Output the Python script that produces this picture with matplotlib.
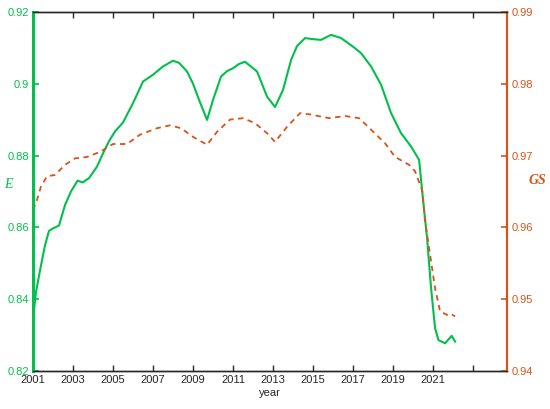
import matplotlib
matplotlib.use('Agg')
from matplotlib import pyplot as plt

# E (green, left axis)
e_year = [2001.0, 2001.15, 2001.35, 2001.6, 2001.8, 2002.0, 2002.3, 2002.6, 2002.9,
          2003.23, 2003.48, 2003.8, 2004.2, 2004.5, 2004.8, 2005.1, 2005.5, 2006.0,
          2006.5, 2007.0, 2007.5, 2008.0, 2008.3, 2008.7, 2009.0, 2009.3, 2009.7,
          2010.0, 2010.4, 2010.7, 2011.0, 2011.3, 2011.6, 2012.2, 2012.7, 2013.1,
          2013.5, 2013.9, 2014.2, 2014.6, 2015.0, 2015.4, 2015.9, 2016.4, 2017.0,
          2017.4, 2017.9, 2018.4, 2018.9, 2019.4, 2019.9, 2020.3, 2020.5, 2020.7,
          2020.9, 2021.1, 2021.27, 2021.6, 2021.93, 2022.1]
e_val = [0.8345, 0.842, 0.848, 0.855, 0.8590, 0.8597, 0.8605, 0.8662, 0.870,
         0.8730, 0.8725, 0.8737, 0.8769, 0.8806, 0.8840, 0.8867, 0.8892, 0.8946,
         0.9006, 0.9025, 0.9048, 0.9064, 0.9058, 0.9034, 0.9000, 0.8955, 0.8899,
         0.8955, 0.9020, 0.9035, 0.9043, 0.9055, 0.9061, 0.9034, 0.8964, 0.8935,
         0.8983, 0.9066, 0.9105, 0.9127, 0.9124, 0.9122, 0.9136, 0.9127, 0.9103,
         0.9085, 0.9048, 0.8997, 0.8918, 0.8862, 0.8825, 0.8788, 0.8676, 0.8570,
         0.8430, 0.8319, 0.8286, 0.8277, 0.8298, 0.8282]

# GS (orange dashed, right axis)
gs_year = [2001.0, 2001.2, 2001.4, 2001.7, 2002.1, 2002.6, 2003.1, 2003.7, 2004.35,
           2005.0, 2005.7, 2006.35, 2007.2, 2007.85, 2008.4, 2009.0, 2009.7, 2010.2,
           2010.85, 2011.5, 2012.1, 2012.7, 2013.1, 2013.7, 2014.35, 2014.9, 2015.8,
           2016.6, 2017.3, 2017.9, 2018.6, 2019.1, 2019.8, 2020.1, 2020.45, 2020.6,
           2020.85, 2021.1, 2021.35, 2021.7, 2021.85, 2022.1]
gs_val = [0.9624, 0.9638, 0.9657, 0.9671, 0.9673, 0.9687, 0.9696, 0.9698, 0.9705,
          0.9716, 0.9716, 0.9729, 0.9738, 0.9742, 0.9738, 0.9726, 0.9715, 0.9733,
          0.9750, 0.9752, 0.9745, 0.9731, 0.9719, 0.9740, 0.9759, 0.9757, 0.9752,
          0.9755, 0.9752, 0.9736, 0.9717, 0.9698, 0.9687, 0.9678, 0.9652, 0.9608,
          0.9562, 0.9515, 0.9483, 0.9478, 0.9480, 0.9476]

x_ticks = [2001, 2003, 2005, 2007, 2009, 2011, 2013, 2015, 2017, 2019, 2021, 2023]
x_labels = ['2001', '2003', '2005', '2007', '2009', '2011', '2013', '2015', '2017',
            '2019', '2021', '']

green = '#00C04B'
orange = '#D95319'

plt.rcParams['font.family'] = ['Liberation Sans', 'DejaVu Sans']

fig = plt.figure(figsize=(5.5, 4.09), dpi=100)
ax = fig.add_axes([0.06, 0.093, 0.862, 0.878])
ax2 = ax.twinx()

ax.plot(e_year, e_val, color=green, linewidth=1.5)
ax2.plot(gs_year, gs_val, color=orange, linewidth=1.3, linestyle=(0, (3, 2.5)))

ax.set_xlim(2001, 2024.7)
ax.set_ylim(0.82, 0.92)
ax2.set_ylim(0.94, 0.99)
ax.set_xticks(x_ticks)
ax.set_xticklabels(x_labels)
ax.set_yticks([0.82, 0.84, 0.86, 0.88, 0.9, 0.92])
ax.set_yticklabels(['0.82', '0.84', '0.86', '0.88', '0.9', '0.92'])
ax2.set_yticks([0.94, 0.95, 0.96, 0.97, 0.98, 0.99])
ax2.set_yticklabels(['0.94', '0.95', '0.96', '0.97', '0.98', '0.99'])

ax.tick_params(axis='x', direction='in', top=True, length=4, width=1,
               labelsize=8, colors='#262626', pad=3)
ax.tick_params(axis='y', direction='in', length=4, width=1.2, labelsize=8,
               colors=green, pad=3)
ax2.tick_params(axis='y', direction='in', length=4, width=1.2, labelsize=8,
                colors=orange, pad=3)

for a in (ax, ax2):
    a.spines['top'].set_color('#262626')
    a.spines['bottom'].set_color('#262626')
    a.spines['top'].set_linewidth(1)
    a.spines['bottom'].set_linewidth(1)
    a.spines['left'].set_color(green)
    a.spines['left'].set_linewidth(2)
    a.spines['right'].set_color(orange)
    a.spines['right'].set_linewidth(1.5)

ax.set_xlabel('year', fontsize=8, color='#262626', labelpad=2)
fig.text(8 / 550, 1 - 185 / 409, 'E', fontsize=10, color=green,
         family=['Liberation Serif'], style='italic', ha='center', va='center')
fig.text(537 / 550, 1 - 180 / 409, 'GS', fontsize=10, color=orange,
         family=['Liberation Serif'], style='italic', weight='bold',
         ha='center', va='center')

fig.savefig('out.png', dpi=100)
